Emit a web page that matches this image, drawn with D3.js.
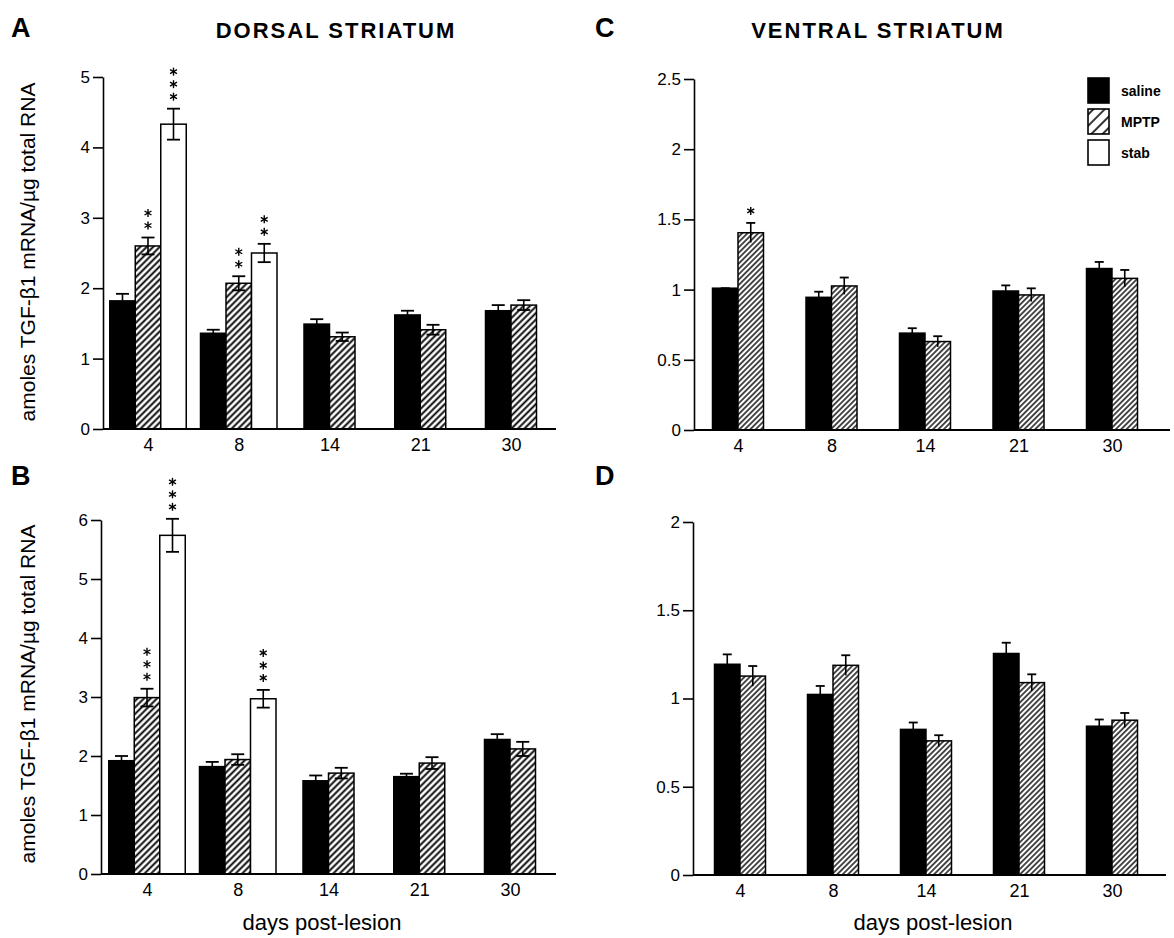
<!DOCTYPE html>
<html>
<head>
<meta charset="utf-8">
<script src="https://cdn.jsdelivr.net/npm/d3@7"></script>
<style>
  body { margin: 0; background: #fff; }
  svg text { font-family: "Liberation Sans", Arial, sans-serif; fill: #000; }
</style>
</head>
<body>
<script>
// categories
const days = ['4', '8', '14', '21', '30']
const legendNames = ['saline', 'MPTP', 'stab']

// A - dorsal striatum (top)
const aSaline = [1.82, 1.36, 1.49, 1.62, 1.68]
const aSalineErr = [0.10, 0.05, 0.07, 0.06, 0.08]
const aMptp = [2.60, 2.07, 1.31, 1.41, 1.76]
const aMptpErr = [0.12, 0.10, 0.06, 0.07, 0.07]
const aStab = [4.33, 2.50, null, null, null]
const aStabErr = [0.22, 0.13, null, null, null]
const aMptpStars = [2, 2, 0, 0, 0]
const aStabStars = [3, 2, 0, 0, 0]
const aTicks = [0, 1, 2, 3, 4, 5]

// B - dorsal striatum (bottom)
const bSaline = [1.92, 1.82, 1.58, 1.65, 2.28]
const bSalineErr = [0.08, 0.08, 0.09, 0.05, 0.09]
const bMptp = [2.99, 1.94, 1.71, 1.88, 2.12]
const bMptpErr = [0.15, 0.09, 0.09, 0.10, 0.12]
const bStab = [5.74, 2.97, null, null, null]
const bStabErr = [0.28, 0.15, null, null, null]
const bMptpStars = [3, 0, 0, 0, 0]
const bStabStars = [3, 3, 0, 0, 0]
const bTicks = [0, 1, 2, 3, 4, 5, 6]

// C - ventral striatum (top)
const cSaline = [1.01, 0.945, 0.69, 0.99, 1.15]
const cSalineErr = [0, 0.04, 0.035, 0.04, 0.047]
const cMptp = [1.405, 1.026, 0.63, 0.962, 1.08]
const cMptpErr = [0.07, 0.06, 0.038, 0.047, 0.06]
const cMptpStars = [1, 0, 0, 0, 0]
const cTicks = [0, 0.5, 1, 1.5, 2, 2.5]

// D - ventral striatum (bottom)
const dSaline = [1.194, 1.023, 0.825, 1.255, 0.843]
const dSalineErr = [0.056, 0.048, 0.039, 0.061, 0.038]
const dMptp = [1.127, 1.188, 0.76, 1.09, 0.877]
const dMptpErr = [0.057, 0.057, 0.032, 0.047, 0.041]
const dTicks = [0, 0.5, 1, 1.5, 2]

const noStars = [0, 0, 0, 0, 0]

const svg = d3.select('body').append('svg')
  .attr('width', 1174)
  .attr('height', 938)

// hatch patterns
const defs = svg.append('defs')
const makeHatch = (id, size, sw) => {
  const p = defs.append('pattern')
    .attr('id', id)
    .attr('patternUnits', 'userSpaceOnUse')
    .attr('width', size)
    .attr('height', size)
    .attr('patternTransform', 'rotate(45)')
  p.append('rect').attr('width', size).attr('height', size).attr('fill', '#fff')
  p.append('line')
    .attr('x1', size / 2).attr('y1', 0)
    .attr('x2', size / 2).attr('y2', size)
    .attr('stroke', '#000')
    .attr('stroke-width', sw)
}
makeHatch('hatchDorsal', 4.6, 1.9)
makeHatch('hatchVentral', 3.8, 1.4)
makeHatch('hatchLegend', 8, 1.6)

const fillFor = (name, hatch) => name === 'saline' ? '#000' : name === 'MPTP' ? `url(#${hatch})` : '#fff'

// small asterisk made of three strokes
const star = (g, cx, cy) => {
  [90, 30, 150].forEach(a => {
    const r = 4, rad = a * Math.PI / 180
    g.append('line')
      .attr('x1', cx - r * Math.cos(rad)).attr('y1', cy - r * Math.sin(rad))
      .attr('x2', cx + r * Math.cos(rad)).attr('y2', cy + r * Math.sin(rad))
      .attr('stroke', '#000').attr('stroke-width', 1.4)
  })
}

const drawPanel = (cfg) => {
  const g = svg.append('g')
  const x = d3.scalePoint().domain(days).range([cfg.x0, cfg.x1])
  const y = d3.scaleLinear().domain([0, d3.max(cfg.ticks)]).range([cfg.yBottom, cfg.yTop])
  const barW = 25.5

  // y axis
  const ya = g.append('g')
    .attr('transform', `translate(${cfg.left},0)`)
    .call(d3.axisLeft(y).tickValues(cfg.ticks).tickSize(10).tickSizeOuter(0).tickPadding(3).tickFormat(d => d))
  ya.selectAll('path, line').attr('stroke', '#000').attr('stroke-width', 1.6)
  ya.selectAll('text').style('font-size', '17px').attr('fill', '#000')

  // bars
  days.forEach((day, i) => {
    const active = cfg.series.filter(s => s.vals[i] != null)
    const n = active.length
    active.forEach((s, j) => {
      const cx = x(day) + (j - (n - 1) / 2) * barW
      const v = s.vals[i], e = s.errs[i]
      g.append('rect')
        .attr('x', cx - barW / 2)
        .attr('y', y(v))
        .attr('width', barW)
        .attr('height', y(0) - y(v))
        .attr('fill', fillFor(s.name, cfg.hatch))
        .attr('stroke', '#000')
        .attr('stroke-width', 1.5)

      // error bar
      const lowV = v - e
      g.append('line')
        .attr('x1', cx).attr('x2', cx)
        .attr('y1', y(v + e)).attr('y2', y(lowV))
        .attr('stroke', '#000').attr('stroke-width', 1.6)
      g.append('line')
        .attr('x1', cx - cfg.capW / 2).attr('x2', cx + cfg.capW / 2)
        .attr('y1', y(v + e)).attr('y2', y(v + e))
        .attr('stroke', '#000').attr('stroke-width', 1.8)
      if (cfg.lowerCap) {
        g.append('line')
          .attr('x1', cx - cfg.capW / 2).attr('x2', cx + cfg.capW / 2)
          .attr('y1', y(lowV)).attr('y2', y(lowV))
          .attr('stroke', '#000').attr('stroke-width', 1.8)
      }

      // significance stars
      const k = s.stars[i]
      for (let m = 0; m < k; m++) {
        star(g, cx, y(v + e) - 12 - m * 12.5)
      }
    })
  })

  // x axis line and labels
  g.append('line')
    .attr('x1', cfg.left).attr('x2', cfg.right)
    .attr('y1', y(0)).attr('y2', y(0))
    .attr('stroke', '#000').attr('stroke-width', 2)
  const xa = g.append('g')
    .attr('transform', `translate(0,${y(0)})`)
    .call(d3.axisBottom(x).tickSize(0).tickPadding(9))
  xa.select('.domain').remove()
  xa.selectAll('text').style('font-size', '18px').attr('fill', '#000')

  // panel letter
  g.append('text')
    .attr('x', cfg.letterX).attr('y', cfg.letterY)
    .style('font-size', '27px').style('font-weight', 'bold')
    .text(cfg.letter)

  if (cfg.title) {
    g.append('text')
      .attr('x', cfg.titleX).attr('y', 38)
      .attr('text-anchor', 'middle')
      .style('font-size', '22px').style('font-weight', 'bold').style('letter-spacing', '2px')
      .text(cfg.title)
  }
  if (cfg.yLabel) {
    g.append('text')
      .attr('transform', `translate(27,${cfg.yLabelY}) rotate(-90)`)
      .attr('text-anchor', 'middle')
      .attr('dominant-baseline', 'central')
      .style('font-size', '21px')
      .text(cfg.yLabel)
  }
  if (cfg.xLabel) {
    g.append('text')
      .attr('x', cfg.xLabelX).attr('y', 930)
      .attr('text-anchor', 'middle')
      .style('font-size', '22px')
      .text(cfg.xLabel)
  }
}

const yText = 'amoles TGF-\u03B21 mRNA/\u00B5g total RNA'

drawPanel({
  letter: 'A', letterX: 11, letterY: 37, title: 'DORSAL STRIATUM', titleX: 336,
  left: 103, right: 556, x0: 148, x1: 511, yBottom: 429, yTop: 77, ticks: aTicks,
  hatch: 'hatchDorsal', capW: 13, lowerCap: true, yLabel: yText, yLabelY: 252,
  series: [
    { name: 'saline', vals: aSaline, errs: aSalineErr, stars: noStars },
    { name: 'MPTP', vals: aMptp, errs: aMptpErr, stars: aMptpStars },
    { name: 'stab', vals: aStab, errs: aStabErr, stars: aStabStars }
  ]
})

drawPanel({
  letter: 'B', letterX: 11, letterY: 485,
  left: 101, right: 556, x0: 147, x1: 510, yBottom: 874, yTop: 520, ticks: bTicks,
  hatch: 'hatchDorsal', capW: 13, lowerCap: true, yLabel: yText, yLabelY: 694,
  xLabel: 'days post-lesion', xLabelX: 322,
  series: [
    { name: 'saline', vals: bSaline, errs: bSalineErr, stars: noStars },
    { name: 'MPTP', vals: bMptp, errs: bMptpErr, stars: bMptpStars },
    { name: 'stab', vals: bStab, errs: bStabErr, stars: bStabStars }
  ]
})

drawPanel({
  letter: 'C', letterX: 595, letterY: 37, title: 'VENTRAL STRIATUM', titleX: 878,
  left: 694, right: 1170, x0: 738, x1: 1112, yBottom: 430, yTop: 79, ticks: cTicks,
  hatch: 'hatchVentral', capW: 9, lowerCap: false,
  series: [
    { name: 'saline', vals: cSaline, errs: cSalineErr, stars: noStars },
    { name: 'MPTP', vals: cMptp, errs: cMptpErr, stars: cMptpStars }
  ]
})

drawPanel({
  letter: 'D', letterX: 595, letterY: 485,
  left: 693, right: 1166, x0: 740, x1: 1112, yBottom: 875, yTop: 522, ticks: dTicks,
  hatch: 'hatchVentral', capW: 9, lowerCap: false,
  xLabel: 'days post-lesion', xLabelX: 933,
  series: [
    { name: 'saline', vals: dSaline, errs: dSalineErr, stars: noStars },
    { name: 'MPTP', vals: dMptp, errs: dMptpErr, stars: noStars }
  ]
})

// legend
const legend = svg.append('g').attr('transform', 'translate(1088,78)')
legendNames.forEach((name, i) => {
  const row = legend.append('g').attr('transform', `translate(0,${i * 31})`)
  row.append('rect')
    .attr('width', 21).attr('height', 25)
    .attr('fill', name === 'MPTP' ? 'url(#hatchLegend)' : fillFor(name, 'hatchLegend'))
    .attr('stroke', '#000').attr('stroke-width', 1.6)
  row.append('text')
    .attr('x', 33).attr('y', 13)
    .attr('dominant-baseline', 'central')
    .style('font-size', '14px').style('font-weight', 'bold')
    .text(name)
})
</script>
</body>
</html>
